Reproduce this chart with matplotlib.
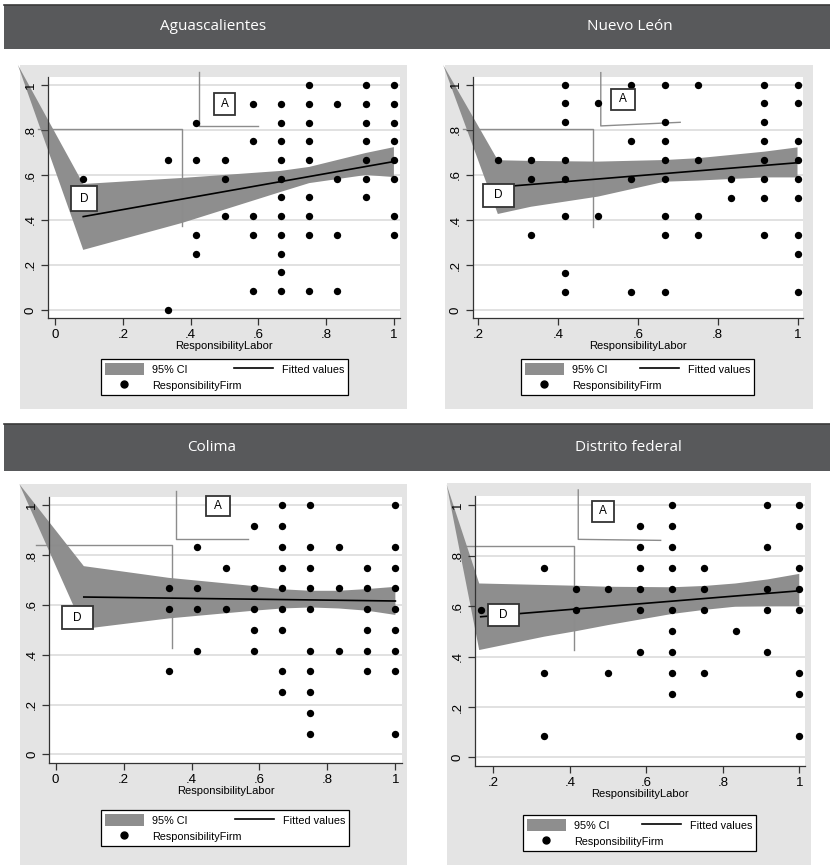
import numpy as np
import matplotlib.pyplot as plt
from matplotlib.patches import Rectangle, Patch, Polygon
from matplotlib.lines import Line2D

plt.rcParams['font.family'] = ['Liberation Sans Narrow', 'Liberation Sans', 'DejaVu Sans']

W, H = 830, 865

states = ["Aguascalientes", "Nuevo León", "Colima", "Distrito federal"]

# ResponsibilityLabor (in twelfths) -> list of ResponsibilityFirm values (in twelfths)
ags_points = {1: [7], 4: [8, 0], 5: [10, 8, 4, 3], 6: [8, 7, 5], 7: [11, 9, 5, 4, 1],
              8: [11, 10, 9, 8, 7, 6, 5, 4, 3, 2, 1], 9: [12, 11, 10, 9, 8, 6, 5, 4, 1],
              10: [11, 7, 4, 1], 11: [12, 11, 10, 9, 8, 7, 6], 12: [12, 11, 10, 9, 8, 7, 5, 4]}
nl_points = {3: [8], 4: [8, 7, 4], 5: [12, 11, 10, 8, 7, 5, 2, 1], 6: [11, 5], 7: [12, 9, 7, 1],
             8: [12, 10, 9, 8, 7, 5, 4, 1], 9: [12, 8, 5, 4], 10: [7, 6],
             11: [12, 11, 10, 9, 8, 7, 6, 4], 12: [12, 11, 9, 8, 7, 6, 4, 3, 1]}
col_points = {4: [8, 7, 4], 5: [10, 8, 7, 5], 6: [9, 7], 7: [11, 8, 7, 6, 5],
              8: [12, 11, 10, 9, 8, 7, 6, 4, 3], 9: [12, 10, 9, 8, 7, 5, 4, 3, 2, 1],
              10: [10, 8, 5], 11: [9, 8, 7, 6, 5, 4], 12: [12, 10, 9, 8, 7, 6, 5, 4, 1]}
df_points = {2: [7], 4: [9, 4, 1], 5: [8, 7], 6: [8, 4], 7: [11, 10, 9, 8, 7, 5],
             8: [12, 11, 10, 9, 8, 7, 6, 5, 4, 3], 9: [9, 8, 7, 4], 10: [6],
             11: [12, 10, 8, 7, 5], 12: [12, 11, 9, 8, 7, 4, 3, 1]}

# 95% CI band (as drawn, including the stray first vertex)
ags_band_x = [-0.11, 0.083, 0.375, 0.664, 0.75, 0.917, 1.0]
ags_band_hi = [1.09, 0.56, 0.587, 0.618, 0.636, 0.698, 0.724]
ags_band_lo = [1.09, 0.267, 0.387, 0.524, 0.564, 0.600, 0.591]
nl_band_x = [0.112, 0.249, 0.332, 0.5, 0.667, 0.75, 0.917, 1.0]
nl_band_hi = [1.087, 0.665, 0.662, 0.659, 0.666, 0.674, 0.703, 0.722]
nl_band_lo = [1.087, 0.427, 0.459, 0.504, 0.570, 0.575, 0.589, 0.589]
col_band_x = [-0.107, 0.083, 0.333, 0.583, 0.667, 0.75, 0.833, 0.917, 1.0]
col_band_hi = [1.086, 0.756, 0.709, 0.676, 0.663, 0.657, 0.657, 0.664, 0.673]
col_band_lo = [1.086, 0.504, 0.546, 0.577, 0.586, 0.590, 0.586, 0.577, 0.560]
df_band_x = [0.078, 0.163, 0.333, 0.417, 0.5, 0.667, 0.75, 0.833, 0.917, 1.0]
df_band_hi = [1.081, 0.69, 0.684, 0.681, 0.677, 0.675, 0.680, 0.69, 0.706, 0.728]
df_band_lo = [1.081, 0.426, 0.479, 0.501, 0.525, 0.569, 0.585, 0.598, 0.6, 0.6]

# fitted values
ags_fit_x, ags_fit_y = [0.083, 1.0], [0.415, 0.66]
nl_fit_x, nl_fit_y = [0.25, 1.0], [0.546, 0.654]
col_fit_x, col_fit_y = [0.083, 1.0], [0.632, 0.616]
df_fit_x, df_fit_y = [0.167, 1.0], [0.558, 0.661]

points = [ags_points, nl_points, col_points, df_points]
bands = [(ags_band_x, ags_band_hi, ags_band_lo), (nl_band_x, nl_band_hi, nl_band_lo),
         (col_band_x, col_band_hi, col_band_lo), (df_band_x, df_band_hi, df_band_lo)]
fits = [(ags_fit_x, ags_fit_y), (nl_fit_x, nl_fit_y), (col_fit_x, col_fit_y), (df_fit_x, df_fit_y)]

# layout (pixels: x0, y0, x1, y1 from top-left)
axes_px = [(48, 77, 400, 318), (472.7, 76.7, 802.7, 318.3),
           (49.3, 496.7, 401.7, 763.3), (475, 496, 805, 766)]
panel_px = [(20, 65, 407, 409), (445, 65, 813, 409), (20, 484, 407, 865), (447, 483, 811, 865)]
legend_px = [(101, 357, 348, 397), (521, 357, 754, 397), (101, 806, 349, 850), (523, 811, 756, 855)]
xlims = [(-0.021, 1.018), (0.186, 1.013), (-0.0186, 1.0186), (0.152, 1.015)]
ylims = [(-0.036, 1.036), (-0.035, 1.035), (-0.036, 1.035), (-0.034, 1.037)]
xticks = [[0, .2, .4, .6, .8, 1], [.2, .4, .6, .8, 1], [0, .2, .4, .6, .8, 1], [.2, .4, .6, .8, 1]]
yticks = [0, .2, .4, .6, .8, 1]

# annotation boxes "D"/"A" (x, y, w, h) and their guide lines, in data units
d_boxes = [(0.047, 0.44, 0.077, 0.111), (0.211, 0.459, 0.078, 0.101),
           (0.0196, 0.503, 0.091, 0.093), (0.187, 0.522, 0.080, 0.086)]
d_lines = [([-0.05, 0.375, 0.375], [0.804, 0.804, 0.373]),
           ([0.162, 0.487, 0.487], [0.804, 0.804, 0.371]),
           ([-0.058, 0.343, 0.343], [0.842, 0.842, 0.426]),
           ([0.124, 0.412, 0.412], [0.839, 0.839, 0.426])]
a_boxes = [(0.469, 0.867, 0.062, 0.097), (0.532, 0.888, 0.061, 0.093),
           (0.443, 0.959, 0.070, 0.078), (0.457, 0.935, 0.059, 0.084)]
a_lines = [([0.425, 0.425, 0.599], [1.058, 0.819, 0.819]),
           ([0.507, 0.507, 0.706], [1.053, 0.817, 0.833]),
           ([0.354, 0.354, 0.565], [1.056, 0.865, 0.865]),
           ([0.422, 0.422, 0.6375], [1.061, 0.865, 0.861])]

headers_px = [(4, 5, 830, 49), (4, 424, 830, 471)]
title_x = [213, 630, 212, 628]

band_color = '#8e8e8e'
panel_color = '#e4e4e4'
header_color = '#58595b'


def frac(box):
    x0, y0, x1, y1 = box
    return [x0 / W, 1 - y1 / H, (x1 - x0) / W, (y1 - y0) / H]


def tick_text(t):
    if t == 0:
        return '0'
    if t == 1:
        return '1'
    return ('%.1f' % t)[1:]


fig = plt.figure(figsize=(W / 100, H / 100), dpi=100)
fig.patch.set_facecolor('white')

for i, hb in enumerate(headers_px):
    r = frac(hb)
    fig.add_artist(Rectangle((r[0], r[1]), r[2], r[3], transform=fig.transFigure,
                             facecolor=header_color, edgecolor='none', zorder=-5))
    fig.add_artist(Line2D([r[0], r[0] + r[2]], [r[1] + r[3]] * 2, transform=fig.transFigure,
                          color='#3a3a3a', lw=1.2, zorder=-4))
    yc = 1 - (hb[1] + hb[3]) / 2 / H
    for j in range(2):
        fig.text(title_x[2 * i + j] / W, yc, states[2 * i + j], color='white',
                 fontsize=11, family=['Open Sans', 'DejaVu Sans'], ha='center', va='center')

for k in range(4):
    r = frac(panel_px[k])
    bg = Rectangle((r[0], r[1]), r[2], r[3], transform=fig.transFigure,
                   facecolor=panel_color, edgecolor='none', zorder=-5)
    fig.add_artist(bg)

    ax = fig.add_axes(frac(axes_px[k]))
    ax.set_facecolor('white')
    ax.set_xlim(*xlims[k])
    ax.set_ylim(*ylims[k])

    for yv in yticks:
        ax.axhline(yv, color='#dcdcdc', lw=1.2, zorder=0.5)

    bx, bhi, blo = bands[k]
    verts = list(zip(bx, bhi)) + list(zip(bx[::-1], blo[::-1]))
    poly = Polygon(verts, closed=True, facecolor=band_color, edgecolor='none', zorder=1,
                   clip_on=False)
    ax.add_patch(poly)
    poly.set_clip_path(bg)

    for lx, ly in (d_lines[k], a_lines[k]):
        ax.plot(lx, ly, color='#8c8c8c', lw=1.0, zorder=2, clip_on=False)

    px, py = [], []
    for xv, ys in points[k].items():
        for yv in ys:
            px.append(xv / 12)
            py.append(yv / 12)
    ax.scatter(px, py, s=28, color='black', zorder=3, linewidths=0, clip_on=False)

    fx, fy = fits[k]
    ax.plot(fx, fy, color='black', lw=1.2, zorder=4)

    for (x0, y0, w, h), lab in ((d_boxes[k], 'D'), (a_boxes[k], 'A')):
        ax.add_patch(Rectangle((x0, y0), w, h, facecolor='white', edgecolor='#333333',
                               lw=1.3, zorder=5, clip_on=False))
        ax.text(x0 + w / 2, y0 + h / 2, lab, ha='center', va='center', fontsize=8.5,
                family=['Liberation Sans', 'DejaVu Sans'], zorder=6)

    ax.set_xticks(xticks[k])
    ax.set_xticklabels([tick_text(t) for t in xticks[k]], fontsize=9.5)
    ax.set_yticks(yticks)
    ax.set_yticklabels([tick_text(t) for t in yticks], fontsize=9.5, rotation=90, va='center')
    ax.tick_params(direction='out', length=5, width=0.9, color='#333333', pad=3)
    for s in ('top', 'right'):
        ax.spines[s].set_visible(False)
    for s in ('left', 'bottom'):
        ax.spines[s].set_color('#333333')
        ax.spines[s].set_linewidth(0.9)
    ax.set_xlabel('ResponsibilityLabor', fontsize=8, labelpad=0)

    h_ci = Patch(facecolor=band_color, edgecolor='none')
    h_pt = Line2D([], [], ls='none', marker='o', color='black', ms=5)
    h_fit = Line2D([], [], color='black', lw=1.2)
    leg = ax.legend([h_ci, h_pt, h_fit], ['95% CI', 'ResponsibilityFirm', 'Fitted values'],
                    ncol=2, mode='expand', loc='center', bbox_to_anchor=frac(legend_px[k]),
                    bbox_transform=fig.transFigure, fancybox=False, edgecolor='black',
                    framealpha=1, fontsize=7.8, handlelength=3.6, handleheight=1.3,
                    borderaxespad=0, labelspacing=0.4, handletextpad=0.8, borderpad=0.35)
    leg.get_frame().set_linewidth(0.9)

fig.savefig('out.png', dpi=100)
